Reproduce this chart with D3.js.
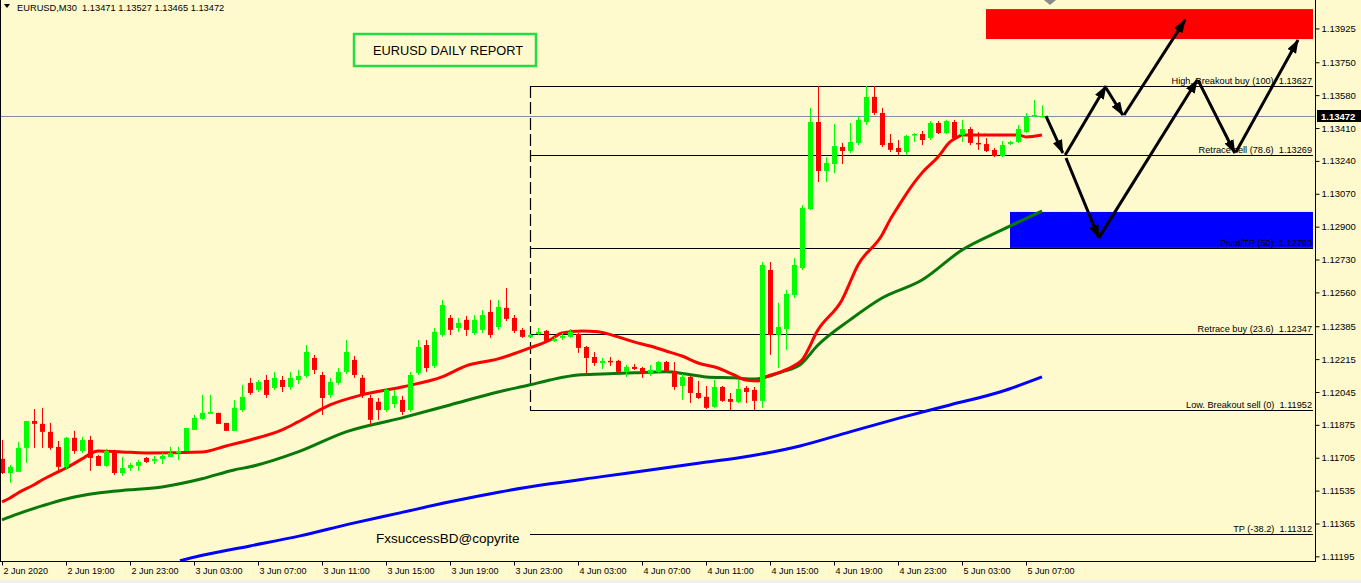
<!DOCTYPE html>
<html><head><meta charset="utf-8">
<script src="https://cdn.jsdelivr.net/npm/d3@7"></script>
<style>body{margin:0;background:#fffacd;overflow:hidden}svg{display:block;font-family:"Liberation Sans",Arial,sans-serif}svg text{white-space:pre}</style>
</head><body><svg id="c" width="1361" height="583"></svg>
<script>
// ---------- DATA ----------
const symbolHeader = "EURUSD,M30  1.13471 1.13527 1.13465 1.13472";
const timeLabels = ["2 Jun 2020","2 Jun 19:00","2 Jun 23:00","3 Jun 03:00","3 Jun 07:00","3 Jun 11:00","3 Jun 15:00","3 Jun 19:00","3 Jun 23:00","4 Jun 03:00","4 Jun 07:00","4 Jun 11:00","4 Jun 15:00","4 Jun 19:00","4 Jun 23:00","5 Jun 03:00","5 Jun 07:00"];
const priceTicks = [1.13925,1.13750,1.13580,1.13410,1.13240,1.13070,1.12900,1.12730,1.12560,1.12385,1.12215,1.12045,1.11875,1.11705,1.11535,1.11365,1.11195];
const lastPrice = 1.13472;
// [open, high, low, close] per 30-min bar starting 2 Jun 15:00
const ohlc = [
[1.11699,1.11797,1.11621,1.11626],[1.11626,1.11668,1.11575,1.11658],[1.11632,1.11787,1.11632,1.11756],[1.11756,1.11895,1.11678,1.11895],
[1.11895,1.11957,1.11756,1.11880],[1.11880,1.11963,1.11756,1.11839],[1.11839,1.11885,1.11746,1.11756],[1.11761,1.11792,1.11637,1.11658],
[1.11658,1.11812,1.11642,1.11808],[1.11808,1.11844,1.11725,1.11740],[1.11740,1.11813,1.11730,1.11797],[1.11797,1.11818,1.11637,1.11704],
[1.11714,1.11719,1.11663,1.11663],[1.11663,1.11751,1.11658,1.11740],[1.11740,1.11746,1.11616,1.11626],[1.11626,1.11709,1.11611,1.11652],
[1.11652,1.11678,1.11637,1.11668],[1.11663,1.11694,1.11637,1.11683],[1.11704,1.11709,1.11678,1.11683],[1.11689,1.11714,1.11673,1.11699],
[1.11699,1.11730,1.11673,1.11714],[1.11709,1.11761,1.11709,1.11730],[1.11730,1.11761,1.11694,1.11740],[1.11740,1.11859,1.11740,1.11859],
[1.11849,1.11926,1.11849,1.11911],[1.11906,1.12030,1.11901,1.11937],[1.11932,1.12030,1.11932,1.11942],[1.11937,1.11937,1.11880,1.11880],
[1.11885,1.11885,1.11844,1.11844],[1.11844,1.12004,1.11844,1.11963],[1.11952,1.12082,1.11942,1.12020],[1.12092,1.12118,1.12030,1.12040],
[1.12056,1.12107,1.12045,1.12097],[1.12107,1.12133,1.12014,1.12030],[1.12066,1.12149,1.12056,1.12118],[1.12107,1.12128,1.12045,1.12071],
[1.12071,1.12149,1.12056,1.12118],[1.12107,1.12159,1.12087,1.12128],[1.12128,1.12288,1.12118,1.12252],[1.12221,1.12237,1.12138,1.12159],
[1.12133,1.12149,1.11926,1.12014],[1.12030,1.12118,1.12014,1.12097],[1.12092,1.12169,1.12082,1.12149],[1.12149,1.12314,1.12138,1.12252],
[1.12211,1.12231,1.12118,1.12133],[1.12118,1.12133,1.12014,1.12030],[1.12014,1.12030,1.11875,1.11901],[1.11994,1.12014,1.11901,1.11952],
[1.11952,1.12066,1.11942,1.12056],[1.11983,1.12056,1.11963,1.12025],[1.12004,1.12025,1.11926,1.11942],[1.11952,1.12149,1.11942,1.12133],
[1.12144,1.12314,1.12133,1.12278],[1.12288,1.12314,1.12149,1.12169],[1.12180,1.12376,1.12169,1.12356],[1.12340,1.12521,1.12330,1.12495],
[1.12428,1.12443,1.12340,1.12366],[1.12376,1.12428,1.12356,1.12402],[1.12418,1.12438,1.12335,1.12366],[1.12350,1.12443,1.12340,1.12418],
[1.12366,1.12469,1.12350,1.12443],[1.12459,1.12521,1.12325,1.12340],[1.12381,1.12521,1.12366,1.12485],[1.12480,1.12583,1.12412,1.12423],
[1.12428,1.12443,1.12350,1.12361],[1.12366,1.12376,1.12325,1.12330],[1.12330,1.12345,1.12325,1.12340],[1.12345,1.12376,1.12340,1.12356],
[1.12361,1.12366,1.12299,1.12309],[1.12309,1.12330,1.12304,1.12319],[1.12325,1.12350,1.12314,1.12335],[1.12330,1.12371,1.12325,1.12356],
[1.12345,1.12350,1.12247,1.12273],[1.12278,1.12283,1.12138,1.12221],[1.12226,1.12252,1.12180,1.12195],[1.12195,1.12221,1.12164,1.12206],
[1.12206,1.12226,1.12180,1.12200],[1.12206,1.12211,1.12144,1.12149],[1.12149,1.12185,1.12123,1.12175],[1.12175,1.12190,1.12159,1.12164],
[1.12169,1.12175,1.12118,1.12144],[1.12144,1.12185,1.12128,1.12159],[1.12149,1.12206,1.12144,1.12200],[1.12200,1.12206,1.12149,1.12154],
[1.12154,1.12200,1.12056,1.12071],[1.12076,1.12138,1.12004,1.12123],[1.12123,1.12128,1.11988,1.12040],[1.12040,1.12102,1.12009,1.12014],
[1.12020,1.12076,1.11957,1.11963],[1.11968,1.12107,1.11963,1.12071],[1.12071,1.12076,1.11994,1.11999],[1.12009,1.12040,1.11952,1.11994],
[1.11994,1.12107,1.11988,1.12061],[1.12066,1.12076,1.11988,1.12045],[1.12056,1.12071,1.11952,1.11999],[1.11999,1.12717,1.11963,1.12702],
[1.12676,1.12717,1.12237,1.12340],[1.12340,1.12506,1.12169,1.12381],[1.12371,1.12573,1.12262,1.12552],[1.12547,1.12738,1.12531,1.12702],
[1.12686,1.13012,1.12676,1.12997],[1.12991,1.13514,1.12986,1.13441],[1.13441,1.13627,1.13131,1.13188],[1.13188,1.13260,1.13131,1.13229],
[1.13224,1.13431,1.13177,1.13317],[1.13312,1.13333,1.13224,1.13291],[1.13291,1.13436,1.13281,1.13338],[1.13333,1.13472,1.13322,1.13452],
[1.13441,1.13627,1.13426,1.13571],[1.13571,1.13627,1.13477,1.13488],[1.13488,1.13514,1.13312,1.13322],[1.13333,1.13379,1.13286,1.13297],
[1.13307,1.13348,1.13270,1.13286],[1.13286,1.13374,1.13270,1.13369],[1.13374,1.13384,1.13338,1.13379],[1.13379,1.13395,1.13322,1.13348],
[1.13358,1.13446,1.13348,1.13436],[1.13436,1.13446,1.13379,1.13384],[1.13384,1.13452,1.13379,1.13446],[1.13441,1.13452,1.13353,1.13358],
[1.13374,1.13452,1.13338,1.13405],[1.13405,1.13415,1.13322,1.13333],[1.13333,1.13389,1.13297,1.13327],[1.13327,1.13358,1.13286,1.13291],
[1.13297,1.13307,1.13260,1.13265],[1.13265,1.13343,1.13260,1.13322],[1.13327,1.13343,1.13322,1.13338],[1.13338,1.13426,1.13333,1.13405],
[1.13389,1.13488,1.13384,1.13467],[1.13472,1.13555,1.13467,1.13477],[1.13471,1.13527,1.13465,1.13472]
];
// moving averages: [bar index, price]
const maRed = [[0,1.11477],[1,1.11497],[2,1.11523],[4,1.11565],[5,1.11590],[7,1.11632],[8,1.11652],[10,1.11699],[11,1.11725],[12,1.11740],[15,1.11735],[18,1.11730],[25,1.11735],[28,1.11766],[31,1.11797],[35,1.11849],[37,1.11890],[41,1.11978],[45,1.12030],[50,1.12071],[55,1.12123],[58,1.12180],[62,1.12216],[66,1.12273],[68.5,1.12314],[70,1.12350],[72.5,1.12361],[74.5,1.12356],[77,1.12330],[79,1.12304],[81,1.12283],[83,1.12257],[85,1.12231],[87,1.12195],[89.5,1.12169],[91.5,1.12133],[93,1.12107],[94.5,1.12102],[95.5,1.12123],[97,1.12144],[99,1.12180],[100,1.12211],[102,1.12366],[105,1.12521],[107,1.12702],[110,1.12857],[111,1.12935],[112,1.13002],[114,1.13126],[115,1.13178],[117,1.13260],[118.5,1.13338],[119.5,1.13364],[120,1.13374],[123,1.13374],[127,1.13374],[128,1.13364],[130,1.13374]];
const maGreen = [[0,1.11384],[2,1.11415],[5,1.11456],[8,1.11492],[12,1.11523],[16,1.11539],[20,1.11554],[25,1.11596],[29,1.11642],[31,1.11658],[37,1.11735],[43,1.11839],[50,1.11911],[56,1.11978],[62,1.12045],[66,1.12082],[68.5,1.12107],[72,1.12133],[75,1.12138],[79,1.12144],[83,1.12149],[85.5,1.12138],[88,1.12123],[91.5,1.12118],[94,1.12112],[95.5,1.12123],[97.5,1.12149],[99.75,1.12185],[102,1.12288],[106,1.12418],[110,1.12531],[115,1.12624],[120,1.12779],[125,1.12883],[130,1.12981]];
const maBlue = [[22.25,1.11172],[24.75,1.11198],[31,1.11249],[37.25,1.11301],[43.5,1.11363],[49.75,1.11420],[56,1.11477],[62.25,1.11528],[68.5,1.11570],[74.75,1.11606],[81,1.11642],[87.25,1.11678],[93.5,1.11714],[99.75,1.11766],[106,1.11839],[112.25,1.11911],[118.5,1.11978],[124.75,1.12045],[130,1.12123]];
// fibonacci levels
const fibStartBar = 66;
const fibLabels = ["High. Breakout buy (100)","Retrace sell (78.6)","Pivot/TP (50)","Retrace buy (23.6)","Low. Breakout sell (0)","TP (-38.2)"];
const fibValues = [1.13627,1.13269,1.12790,1.12347,1.11952,1.11312];
// zones: [start bar, upper price, lower price]
const sellZone = [123,1.14025,1.13870];
const buyZone = [126,1.12976,1.12790];
// projected path arrows: segments [[bar,price],[bar,price]]
const arrowsA = [[[130.5,1.13472],[132.6,1.13281]],[[132.9,1.13270],[138,1.13627]],[[138,1.13617],[140.1,1.13477]],[[140.25,1.13477],[147.9,1.13969]]];
const arrowsB = [[[133,1.13255],[137.1,1.12842]],[[137.1,1.12842],[149.4,1.13658]],[[149.5,1.13658],[154.1,1.13281]],[[154.25,1.13286],[162,1.13865]]];
const titleText = "EURUSD DAILY REPORT";
const creditText = "FxsuccessBD@copyrite";

// ---------- LAYOUT ----------
const W = 1361, H = 583, plotR = 1315, plotB = 561;
const svg = d3.select("#c");
const x = d3.scaleLinear().domain([0,130]).range([2,1042]);
const y = d3.scaleLinear().domain([1.11171,1.14072]).range([plotB,0]);
const fmt = d3.format(".5f");

svg.append("rect").attr("width",W).attr("height",H).attr("fill","#fffacd");
svg.append("rect").attr("x",0).attr("y",580).attr("width",W).attr("height",3).attr("fill","#f0f0f0");

svg.append("defs").append("clipPath").attr("id","plot").append("rect").attr("x",0).attr("y",0).attr("width",plotR).attr("height",plotB);
const g = svg.append("g").attr("clip-path","url(#plot)");

// zones
g.append("rect").attr("x",x(sellZone[0])).attr("y",y(sellZone[1])).attr("width",plotR-2-x(sellZone[0])).attr("height",y(sellZone[2])-y(sellZone[1])).attr("fill","#ff0000");
g.append("rect").attr("x",x(buyZone[0])).attr("y",y(buyZone[1])).attr("width",plotR-2-x(buyZone[0])).attr("height",y(buyZone[2])-y(buyZone[1])).attr("fill","#0000ff");

// current price line
g.append("line").attr("x1",0).attr("x2",plotR).attr("y1",Math.round(y(lastPrice))+0.5).attr("y2",Math.round(y(lastPrice))+0.5).attr("stroke","#7e8ca8").attr("stroke-width",1);

// fib levels
const fx0 = x(fibStartBar);
fibValues.forEach((v,i)=>{
  const yy = Math.round(y(v))+0.5;
  g.append("line").attr("x1",fx0).attr("x2",plotR-2).attr("y1",yy).attr("y2",yy).attr("stroke","#000").attr("stroke-width",1);
  g.append("text").attr("x",plotR-3).attr("y",yy-3).attr("text-anchor","end").attr("font-size",9.2).attr("fill","#000")
    .text(fibLabels[i]+"  "+fmt(v));
});
g.append("line").attr("x1",fx0+0.5).attr("x2",fx0+0.5).attr("y1",y(fibValues[0])).attr("y2",y(fibValues[4])).attr("stroke","#000").attr("stroke-width",1.2).attr("stroke-dasharray","12,4");

// moving averages
const line = d3.line().x(d=>x(d[0])).y(d=>y(d[1])).curve(d3.curveMonotoneX);
g.append("path").datum(maBlue).attr("d",line).attr("fill","none").attr("stroke","#0000ff").attr("stroke-width",3);
g.append("path").datum(maGreen).attr("d",line).attr("fill","none").attr("stroke","#087808").attr("stroke-width",3);
g.append("path").datum(maRed).attr("d",line).attr("fill","none").attr("stroke","#ff0000").attr("stroke-width",3);

// candles
const cg = g.append("g");
ohlc.forEach((d,i)=>{
  const [o,h,l,c] = d;
  const col = c>=o ? "#00ff00" : "#ff0000";
  const cx = Math.round(x(i));
  cg.append("rect").attr("x",cx).attr("y",y(h)).attr("width",1).attr("height",Math.max(1,y(l)-y(h))).attr("fill",col);
  const top = y(Math.max(o,c)), bot = y(Math.min(o,c));
  cg.append("rect").attr("x",cx-2).attr("y",top).attr("width",5).attr("height",Math.max(1.5,bot-top)).attr("fill",col);
});

// arrows
const defs = svg.select("defs");
defs.append("marker").attr("id","ah").attr("viewBox","0 0 14 10").attr("refX",13).attr("refY",5)
  .attr("markerWidth",14).attr("markerHeight",10).attr("markerUnits","userSpaceOnUse").attr("orient","auto")
  .append("path").attr("d","M0,0 L14,5 L0,10 Z").attr("fill","#000");
[arrowsA,arrowsB].forEach(set=>set.forEach(seg=>{
  g.append("line").attr("x1",x(seg[0][0])).attr("y1",y(seg[0][1])).attr("x2",x(seg[1][0])).attr("y2",y(seg[1][1]))
   .attr("stroke","#000").attr("stroke-width",3).attr("marker-end","url(#ah)");
}));

// axes frame
svg.append("line").attr("x1",0.5).attr("x2",0.5).attr("y1",0).attr("y2",plotB).attr("stroke","#000");
svg.append("line").attr("x1",plotR+0.5).attr("x2",plotR+0.5).attr("y1",0).attr("y2",plotB+0.5).attr("stroke","#000");
svg.append("line").attr("x1",0).attr("x2",plotR+1).attr("y1",plotB+0.5).attr("y2",plotB+0.5).attr("stroke","#000");

// price axis
const yAxisG = svg.append("g").attr("transform",`translate(${plotR+0.5},0)`);
yAxisG.call(d3.axisRight(y).tickValues(priceTicks).tickFormat(fmt).tickSize(4).tickPadding(2));
yAxisG.select(".domain").remove();
yAxisG.selectAll("text").attr("font-size",9.5).attr("font-family","Liberation Sans, Arial, sans-serif").attr("fill","#000");
yAxisG.selectAll("line").attr("stroke","#000");

// last price label
const ly = Math.round(y(lastPrice));
svg.append("rect").attr("x",plotR+2).attr("y",ly-6).attr("width",44).attr("height",12).attr("fill","#000");
svg.append("text").attr("x",plotR+6).attr("y",ly+4).attr("font-size",9.5).attr("fill","#fff").attr("font-weight","bold").text(fmt(lastPrice));

// time axis
const tx = d3.scaleLinear().domain([0,130]).range([2,1042]);
const xAxisG = svg.append("g").attr("transform",`translate(0,${plotB+0.5})`);
xAxisG.call(d3.axisBottom(tx).tickValues(timeLabels.map((t,i)=>i*8)).tickFormat((d,i)=>timeLabels[i]).tickSize(4));
xAxisG.select(".domain").remove();
xAxisG.selectAll("line").attr("stroke","#000");
xAxisG.selectAll("text").attr("text-anchor","start").attr("dx",0).attr("x",1).attr("y",6).attr("font-size",9).attr("font-family","Liberation Sans, Arial, sans-serif").attr("fill","#000");

// header
svg.append("path").attr("d","M4,4 L10,4 L7,8 Z").attr("fill","#000");
svg.append("text").attr("x",17).attr("y",11).attr("font-size",9.3).attr("fill","#000").text(symbolHeader);
// chart shift marker
svg.append("path").attr("d",`M${x(131)-6},0 L${x(131)+6},0 L${x(131)},5 Z`).attr("fill","#8a8a8a");

// title box
svg.append("rect").attr("x",354).attr("y",34).attr("width",182).attr("height",32).attr("fill","none").attr("stroke","#22dd44").attr("stroke-width",2.5);
svg.append("text").attr("x",448).attr("y",55).attr("text-anchor","middle").attr("font-size",12.8).attr("fill","#000").text(titleText);
// credit
svg.append("text").attr("x",376).attr("y",543).attr("font-size",13.5).attr("fill","#000").text(creditText);
</script></body></html>
